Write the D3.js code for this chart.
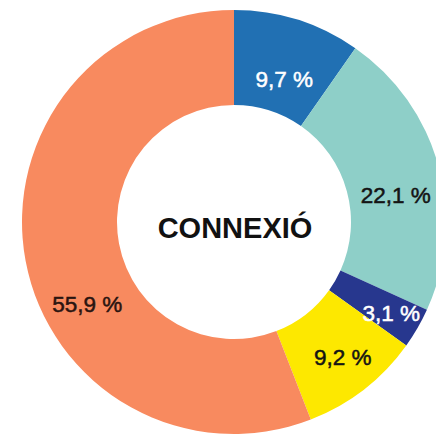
<!DOCTYPE html>
<html>
<head>
<meta charset="utf-8">
<script src="https://cdn.jsdelivr.net/npm/d3@7"></script>
<style>
  html, body { margin: 0; padding: 0; background: #ffffff; }
  svg { display: block; }
</style>
</head>
<body>
<svg id="chart" width="436" height="435"></svg>
<script>
const categories = ["A", "B", "C", "D", "E"];
const values = [9.7, 22.1, 3.1, 9.2, 55.9];
const labels = ["9,7 %", "22,1 %", "3,1 %", "9,2 %", "55,9 %"];
const colors = ["#2170b3", "#8ecfc8", "#27378e", "#fde800", "#f88a5f"];
const labelColors = ["#ffffff", "#141414", "#ffffff", "#141414", "#2a1410"];
const labelNudgeX = [1, 3, 15, 8, 15];
const labelNudgeY = [16, 18, 11, 7, 54];
const centerTitle = "CONNEXIÓ";

const svg = d3.select("#chart");
const cx = 234, cy = 222, R = 212, r = 117;
const g = svg.append("g").attr("transform", `translate(${cx},${cy})`);

const pie = d3.pie().sort(null).value(d => d.v);
const data = categories.map((c, i) => ({ c, v: values[i], i }));
const arcs = pie(data);
const arc = d3.arc().innerRadius(r).outerRadius(R);

g.selectAll("path.slice")
  .data(arcs)
  .join("path")
  .attr("class", "slice")
  .attr("d", arc)
  .attr("fill", d => colors[d.data.i]);

g.selectAll("text.lbl")
  .data(arcs)
  .join("text")
  .attr("class", "lbl")
  .attr("x", d => arc.centroid(d)[0] + labelNudgeX[d.data.i])
  .attr("y", d => arc.centroid(d)[1] + labelNudgeY[d.data.i])
  .attr("text-anchor", "middle")
  .attr("dominant-baseline", "middle")
  .attr("font-family", "Liberation Sans, Arial, Helvetica, sans-serif")
  .attr("font-size", 22.5)
  .attr("fill", d => labelColors[d.data.i])
  .attr("stroke", d => labelColors[d.data.i])
  .attr("stroke-width", 0.5)
  .text(d => labels[d.data.i]);

g.append("text")
  .attr("x", 1)
  .attr("y", 16)
  .attr("text-anchor", "middle")
  .attr("font-family", "Liberation Sans, Arial, Helvetica, sans-serif")
  .attr("font-weight", "bold")
  .attr("font-size", 29)
  .attr("fill", "#111111")
  .text(centerTitle);
</script>
</body>
</html>
